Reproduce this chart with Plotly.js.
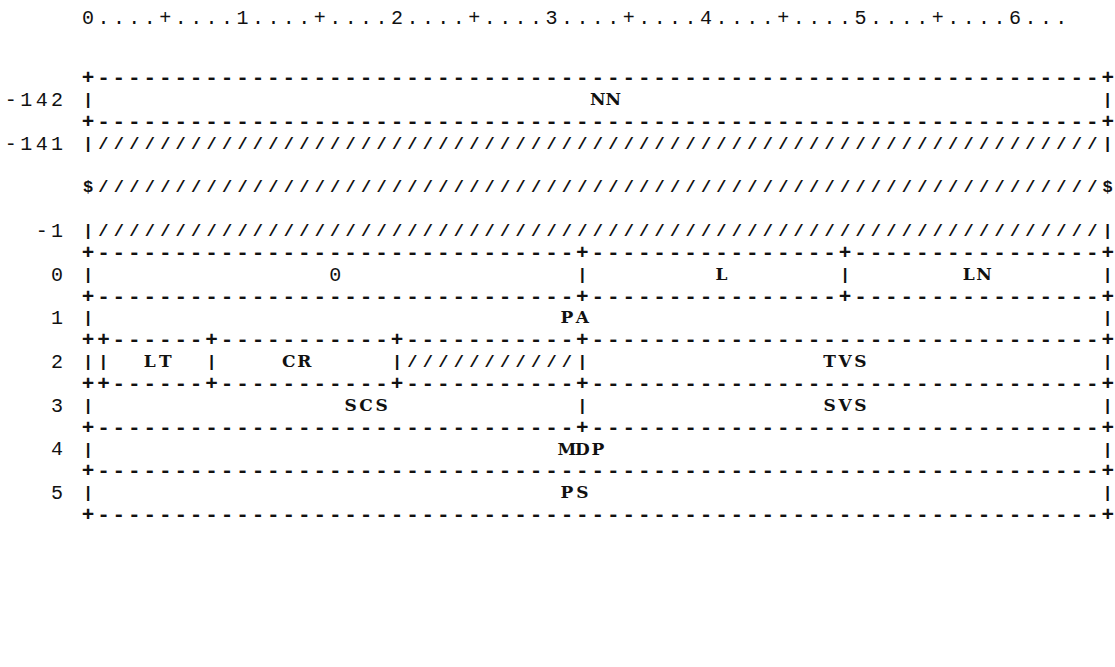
<!DOCTYPE html>
<html>
<head>
<meta charset="utf-8">
<script src="https://cdn.plot.ly/plotly-3.0.1.min.js"></script>
<style>html,body{margin:0;padding:0;background:#fff;}#chart{width:1115px;height:667px;}</style>
</head>
<body>
<div id="chart"></div>
<script>
// ---- data: the diagram text ----
const rulerText = "0....+....1....+....2....+....3....+....4....+....5....+....6...";
const rowLabels = ["", "-142", "", "-141", "", "", "", "-1", "", "0", "", "1", "", "2", "", "3", "", "4", "", "5", ""];
const D = (n) => "-".repeat(n), S = (n) => " ".repeat(n), H = (n) => "/".repeat(n);
const rowBodies = [
  "+" + D(65) + "+",
  "|" + S(32) + "NN" + S(31) + "|",
  "+" + D(65) + "+",
  "|" + H(65) + "|",
  "",
  "$" + H(65) + "$",
  "",
  "|" + H(65) + "|",
  "+" + D(31) + "+" + D(16) + "+" + D(16) + "+",
  "|" + S(15) + "0" + S(15) + "|" + S(8) + "L" + S(7) + "|" + S(7) + "LN" + S(7) + "|",
  "+" + D(31) + "+" + D(16) + "+" + D(16) + "+",
  "|" + S(30) + "PA" + S(33) + "|",
  "++" + D(6) + "+" + D(11) + "+" + D(11) + "+" + D(33) + "+",
  "||" + S(2) + "LT" + S(2) + "|" + S(4) + "CR" + S(5) + "|" + H(11) + "|" + S(15) + "TVS" + S(15) + "|",
  "++" + D(6) + "+" + D(11) + "+" + D(11) + "+" + D(33) + "+",
  "|" + S(16) + "SCS" + S(12) + "|" + S(15) + "SVS" + S(15) + "|",
  "+" + D(31) + "+" + D(33) + "+",
  "|" + S(30) + "MDP" + S(32) + "|",
  "+" + D(65) + "+",
  "|" + S(30) + "PS" + S(33) + "|",
  "+" + D(65) + "+"
];

// ---- layout constants ----
const W = 1115, Hh = 667;
const colW = 15.45, col0 = 88;     // px of column 0
const lineH = 21.84, line0 = 79;   // px of first body line
const rulerY = 19;

function toPts(str, startCol, line, xs, ys, ts) {
  for (let i = 0; i < str.length; i++) {
    const ch = str[i];
    if (ch === " ") continue;
    xs.push(startCol + i); ys.push(line); ts.push(ch);
  }
}

const bx = [], by = [], bt = [];   // dashes and plus signs
const sx = [], sy = [], st = [];   // slashes and dollar signs
const vx = [], vy = [], vt = [];   // vertical bars
const lx = [], ly = [], lt = [];   // letters
const dx = [], dy = [], dt = [];   // digits (labels and in-box)
rowBodies.forEach((row, k) => {
  for (let i = 0; i < row.length; i++) {
    const ch = row[i];
    if (ch === " ") continue;
    if (/[A-Z]/.test(ch)) { lx.push(i); ly.push(k); lt.push(ch); }
    else if (/[0-9]/.test(ch)) { dx.push(i); dy.push(k); dt.push(ch); }
    else if (ch === "|") { vx.push(i); vy.push(k); vt.push(ch); }
    else if (ch === "-" || ch === "+") { bx.push(i); by.push(k); bt.push(ch); }
    else { sx.push(i); sy.push(k); st.push(ch); }
  }
});
rowLabels.forEach((lab, k) => {
  if (!lab) return;
  toPts(lab, -1 - lab.length, k, dx, dy, dt);
});
const rulerLine = (rulerY - line0) / lineH;
const rx = [], ry = [], rt = [];
toPts(rulerText, 0, rulerLine, rx, ry, rt);

const fontMono = "Liberation Mono, Courier New, monospace";
const fontSerif = "DejaVu Serif, Liberation Serif, serif";
function textTrace(x, y, t, family, size, weight) {
  return {type: "scatter", mode: "text", x: x, y: y, text: t, textposition: "middle center",
    textfont: {family: family, size: size, color: "#111", weight: weight},
    hoverinfo: "skip", showlegend: false, cliponaxis: false};
}
const traces = [
  textTrace(bx, by, bt, fontMono, 21, 700),
  textTrace(sx, sy, st, fontMono, 17, 700),
  textTrace(vx, vy, vt, fontMono, 17, 700),
  textTrace(lx, ly, lt, fontSerif, 17, 700),
  textTrace(dx, dy, dt, fontMono, 20, 400),
  textTrace(rx, ry, rt, fontMono, 20, 400)
];

const layout = {
  width: W, height: Hh,
  margin: {l: 0, r: 0, t: 0, b: 0},
  paper_bgcolor: "#fff", plot_bgcolor: "#fff",
  xaxis: {range: [-col0 / colW, (W - col0) / colW], visible: false, fixedrange: true},
  yaxis: {range: [(Hh - line0) / lineH, -line0 / lineH], visible: false, fixedrange: true},
  showlegend: false
};
Plotly.newPlot("chart", traces, layout, {staticPlot: true, displayModeBar: false});
</script>
</body>
</html>
